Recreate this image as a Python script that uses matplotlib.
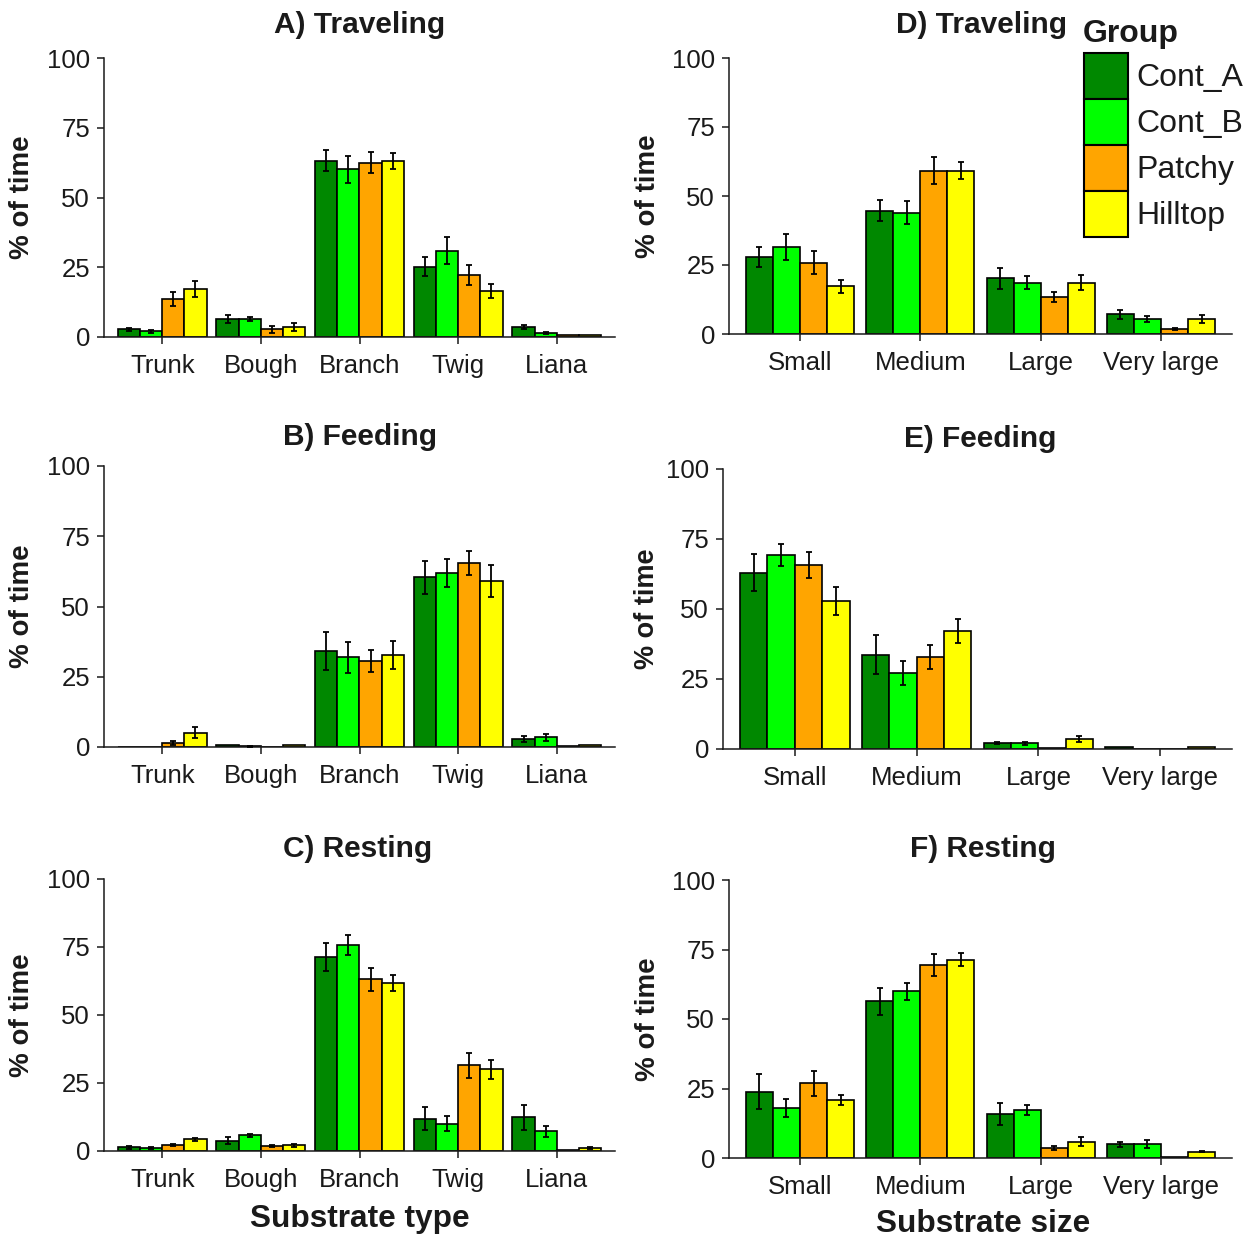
import matplotlib
matplotlib.use("Agg")
import matplotlib.pyplot as plt
from matplotlib.patches import Patch
import numpy as np

plt.rcParams['font.family'] = ['Liberation Sans', 'DejaVu Sans']

groups = ["Cont_A", "Cont_B", "Patchy", "Hilltop"]
colors = ["#008800", "#00FF00", "#FFA500", "#FFFF00"]

substrate_types = ["Trunk", "Bough", "Branch", "Twig", "Liana"]
substrate_sizes = ["Small", "Medium", "Large", "Very large"]

# A) Traveling by substrate type (mean % of time, SE)
trav_type_mean = {
    "Cont_A": [2.8, 6.4, 63.2, 25.2, 3.6],
    "Cont_B": [2.0, 6.4, 60.1, 30.9, 1.5],
    "Patchy": [13.6, 2.8, 62.5, 22.3, 0.6],
    "Hilltop": [17.2, 3.6, 63.1, 16.5, 0.6],
}
trav_type_se = {
    "Cont_A": [0.5, 1.5, 3.7, 3.3, 0.8],
    "Cont_B": [0.6, 0.8, 4.9, 4.8, 0.4],
    "Patchy": [2.6, 1.2, 3.7, 3.6, 0.0],
    "Hilltop": [2.9, 1.5, 3.0, 2.5, 0.0],
}

# B) Feeding by substrate type
feed_type_mean = {
    "Cont_A": [0.0, 0.8, 34.2, 60.4, 2.8],
    "Cont_B": [0.0, 0.2, 31.9, 61.8, 3.4],
    "Patchy": [1.5, 0.0, 30.6, 65.4, 0.3],
    "Hilltop": [5.1, 0.8, 32.7, 59.1, 0.8],
}
feed_type_se = {
    "Cont_A": [0.0, 0.0, 6.9, 5.8, 1.0],
    "Cont_B": [0.0, 0.2, 5.5, 5.0, 1.1],
    "Patchy": [0.8, 0.0, 4.0, 4.3, 0.0],
    "Hilltop": [1.9, 0.0, 5.1, 5.7, 0.0],
}

# C) Resting by substrate type
rest_type_mean = {
    "Cont_A": [1.3, 3.7, 71.2, 11.8, 12.4],
    "Cont_B": [1.2, 5.7, 75.7, 10.1, 7.2],
    "Patchy": [2.2, 1.8, 63.2, 31.5, 0.3],
    "Hilltop": [4.3, 2.1, 61.8, 30.0, 1.2],
}
rest_type_se = {
    "Cont_A": [0.4, 1.3, 5.2, 4.2, 4.5],
    "Cont_B": [0.4, 0.6, 3.8, 2.9, 2.0],
    "Patchy": [0.4, 0.4, 4.2, 4.5, 0.0],
    "Hilltop": [0.5, 0.5, 2.9, 3.4, 0.4],
}

# D) Traveling by substrate size
trav_size_mean = {
    "Cont_A": [28.0, 44.7, 20.2, 7.1],
    "Cont_B": [31.6, 43.9, 18.6, 5.5],
    "Patchy": [25.8, 59.2, 13.4, 1.9],
    "Hilltop": [17.3, 59.2, 18.6, 5.5],
}
trav_size_se = {
    "Cont_A": [3.6, 3.7, 3.8, 1.7],
    "Cont_B": [4.8, 4.2, 2.4, 1.2],
    "Patchy": [4.1, 4.8, 1.8, 0.4],
    "Hilltop": [2.3, 3.0, 2.6, 1.4],
}

# E) Feeding by substrate size
feed_size_mean = {
    "Cont_A": [63.0, 33.7, 2.1, 0.6],
    "Cont_B": [69.4, 27.0, 2.1, 0.0],
    "Patchy": [65.8, 33.0, 0.5, 0.0],
    "Hilltop": [53.0, 42.3, 3.7, 0.6],
}
feed_size_se = {
    "Cont_A": [6.5, 6.9, 0.4, 0.0],
    "Cont_B": [3.9, 4.3, 0.5, 0.0],
    "Patchy": [4.7, 4.3, 0.0, 0.0],
    "Hilltop": [5.0, 4.3, 1.1, 0.0],
}

# F) Resting by substrate size
rest_size_mean = {
    "Cont_A": [23.9, 56.3, 15.8, 5.0],
    "Cont_B": [17.9, 59.9, 17.3, 5.0],
    "Patchy": [26.8, 69.3, 3.6, 0.5],
    "Hilltop": [20.9, 71.4, 5.8, 2.3],
}
rest_size_se = {
    "Cont_A": [6.2, 4.7, 4.0, 0.9],
    "Cont_B": [3.3, 2.9, 1.8, 1.3],
    "Patchy": [4.4, 4.0, 0.6, 0.0],
    "Hilltop": [1.9, 2.2, 1.6, 0.3],
}

y_ticks = [0, 25, 50, 75, 100]

W, H = 1258, 1241
fig = plt.figure(figsize=(W / 100, H / 100), dpi=100)


def px_axes(left, right, top, bottom):
    return fig.add_axes([left / W, 1 - bottom / H, (right - left) / W, (bottom - top) / H])


panels = [
    # (title, categories, means, ses, (left, right, top, bottom), title x, title baseline, ylabel x, ylabel size)
    ("A) Traveling", substrate_types, trav_type_mean, trav_type_se, (104, 615, 58, 337), 360, 33, 22, 20),
    ("B) Feeding", substrate_types, feed_type_mean, feed_type_se, (104, 615, 466, 747), 360, 445, 22, 20),
    ("C) Resting", substrate_types, rest_type_mean, rest_type_se, (104, 615, 879, 1151), 358, 857, 22, 20),
    ("D) Traveling", substrate_sizes, trav_size_mean, trav_size_se, (729, 1232, 58, 334), 982, 33, 648, 20),
    ("E) Feeding", substrate_sizes, feed_size_mean, feed_size_se, (723, 1232, 469, 749), 980, 447, 647, 19.5),
    ("F) Resting", substrate_sizes, rest_size_mean, rest_size_se, (729, 1232, 880, 1158), 983, 857, 648, 20),
]

bar_w = 0.225
offsets = (np.arange(len(groups)) - 1.5) * bar_w
ink = "#1a1a1a"

for title, cats, means, ses, box, tx, ty, ylx, ylsize in panels:
    ax = px_axes(*box)
    x = np.arange(len(cats))
    for g, col, off in zip(groups, colors, offsets):
        m = np.array(means[g])
        e = np.array(ses[g])
        ax.bar(x + off, m, width=bar_w, color=col, edgecolor="black",
               linewidth=1.2, zorder=2)
        sel = e > 0
        ax.errorbar(x[sel] + off, m[sel], yerr=e[sel], fmt="none",
                    ecolor="black", elinewidth=1.3, capsize=2.5,
                    capthick=1.3, zorder=3)
    ax.set_xlim(-0.59, len(cats) - 1 + 0.59)
    ax.set_ylim(0, 100)
    ax.set_yticks(y_ticks)
    ax.set_xticks(x)
    ax.set_xticklabels(cats)
    for s in ("top", "right"):
        ax.spines[s].set_visible(False)
    for s in ("left", "bottom"):
        ax.spines[s].set_linewidth(1.1)
        ax.spines[s].set_color(ink)
    ax.tick_params(axis="y", length=5, width=1.1, color=ink, pad=5,
                   labelsize=18.5, labelcolor=ink)
    ax.tick_params(axis="x", length=5, width=1.1, color=ink, pad=7,
                   labelsize=18.5, labelcolor=ink)
    top, bottom = box[2], box[3]
    fig.text(ylx / W, 1 - (top + bottom) / 2 / H, "% of time", rotation=90,
             ha="center", va="center", fontsize=ylsize, fontweight="bold",
             color=ink)
    fig.text(tx / W, 1 - ty / H, title, ha="center", va="baseline",
             fontsize=21.5, fontweight="bold", color=ink)

fig.text(360 / W, 1 - 1227 / H, "Substrate type", ha="center", va="baseline",
         fontsize=22.8, fontweight="bold", color=ink)
fig.text(983 / W, 1 - 1232 / H, "Substrate size", ha="center", va="baseline",
         fontsize=22.8, fontweight="bold", color=ink)

# Group legend: bold heading above a stack of touching colour boxes
fig.text(1083 / W, 1 - 42 / H, "Group", ha="left", va="baseline",
         fontsize=23, fontweight="bold", color=ink)
handles = [Patch(facecolor=c, edgecolor="black", linewidth=1.5) for c in colors]
leg = fig.legend(handles, groups, loc="upper left",
                 bbox_to_anchor=(1084 / W, 1 - 53 / H), frameon=False,
                 fontsize=23, handlelength=1.38, handleheight=1.84,
                 labelspacing=0, borderpad=0, borderaxespad=0,
                 handletextpad=0.25)
for t in leg.get_texts():
    t.set_color(ink)

fig.savefig("out.png", dpi=100, facecolor="white")
